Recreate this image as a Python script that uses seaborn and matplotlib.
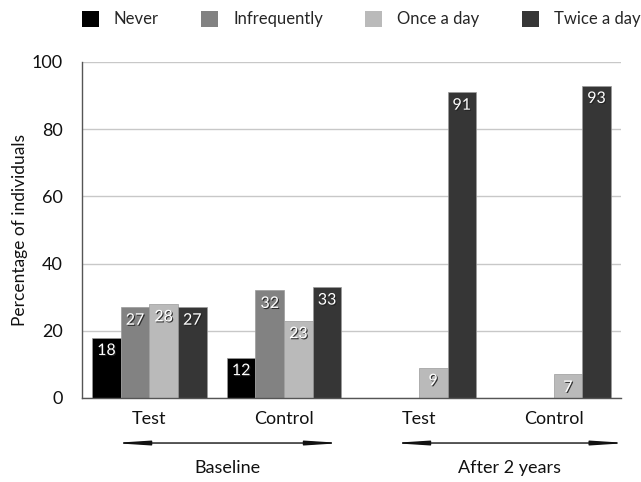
import matplotlib
matplotlib.use("Agg")
import matplotlib.pyplot as plt
import matplotlib.patheffects as pe
from matplotlib.patches import FancyArrowPatch
from matplotlib.patches import Patch
import seaborn as sns
import pandas as pd

# ---- data ----
groups = ["Baseline Test", "Baseline Control", "After Test", "After Control"]
group_tick_labels = ["Test", "Control", "Test", "Control"]
periods = ["Baseline", "After 2 years"]
series = ["Never", "Infrequently", "Once a day", "Twice a day"]
never = [18, 12, 0, 0]
infrequently = [27, 32, 0, 0]
once_a_day = [28, 23, 9, 7]
twice_a_day = [27, 33, 91, 93]

colors = ["#000000", "#828282", "#bababa", "#363636"]

rows = []
for s, vals in zip(series, [never, infrequently, once_a_day, twice_a_day]):
    for g, v in zip(groups, vals):
        rows.append({"group": g, "freq": s, "value": v})
df = pd.DataFrame(rows)

sns.set_theme(style="white")
plt.rcParams["font.family"] = ["Lato", "DejaVu Sans"]

fig = plt.figure(figsize=(6.41, 4.82), dpi=100)
ax = fig.add_axes([82 / 641, 1 - 398 / 482, (621 - 82) / 641, (398 - 62) / 482])

sns.barplot(data=df, x="group", y="value", hue="freq", order=groups,
            hue_order=series, palette=colors, width=0.85, dodge=True,
            ax=ax, legend=False, edgecolor="#9a9a9a", linewidth=0.5,
            saturation=1)

ax.set_xlim(-0.5, 3.5)
ax.set_ylim(0, 100)
ax.set_yticks([0, 20, 40, 60, 80, 100])
ax.yaxis.grid(True, color="#c8c8c8", linewidth=1)
ax.set_axisbelow(True)
for s in ["top", "right"]:
    ax.spines[s].set_visible(False)
for s in ["left", "bottom"]:
    ax.spines[s].set_color("#555555")
    ax.spines[s].set_linewidth(1)
ax.tick_params(axis="y", length=0, pad=14, labelsize=13, colors="#111111")
ax.tick_params(axis="x", length=0, pad=9, labelsize=13, colors="#111111")
ax.set_xticks(range(len(groups)))
ax.set_xticklabels(group_tick_labels)
ax.set_xlabel("")
ax.set_ylabel("Percentage of individuals", fontsize=12.5, color="#111111")
ax.yaxis.set_label_coords(-0.100, 0.5)

# value labels
for cont in ax.containers:
    for bar in cont:
        h = bar.get_height()
        if h > 0:
            ax.text(bar.get_x() + bar.get_width() / 2, h - 4.0, f"{int(round(h))}",
                    ha="center", va="center", color="white", fontsize=11.5,
                    path_effects=[pe.withSimplePatchShadow(offset=(0.8, -0.8),
                                                           shadow_rgbFace="#222222", alpha=0.9)])

# period labels with arrows
trans = ax.get_xaxis_transform()
period_spans = [(-0.29, 1.45), (1.78, 3.57)]
for name, (x0, x1) in zip(periods, period_spans):
    arr = FancyArrowPatch((x0, -0.134), (x1, -0.134), transform=trans,
                          arrowstyle="<|-|>,head_length=2.0,head_width=0.13",
                          color="#111111", linewidth=1.0, clip_on=False,
                          mutation_scale=10)
    ax.add_patch(arr)
    ax.text((x0 + x1) / 2, -0.208, name, transform=trans, ha="center",
            va="center", fontsize=13, color="#111111")

# legend
handles = [Patch(facecolor=c, edgecolor="none") for c in colors]
fig.legend(handles, series, loc="center", bbox_to_anchor=(0.5635, 1 - 19 / 482),
           ncol=4, frameon=False, fontsize=12, handlelength=1.0,
           handleheight=1.1, handletextpad=0.9, columnspacing=2.55,
           borderaxespad=0, borderpad=0)

fig.savefig("out.png", dpi=100)
